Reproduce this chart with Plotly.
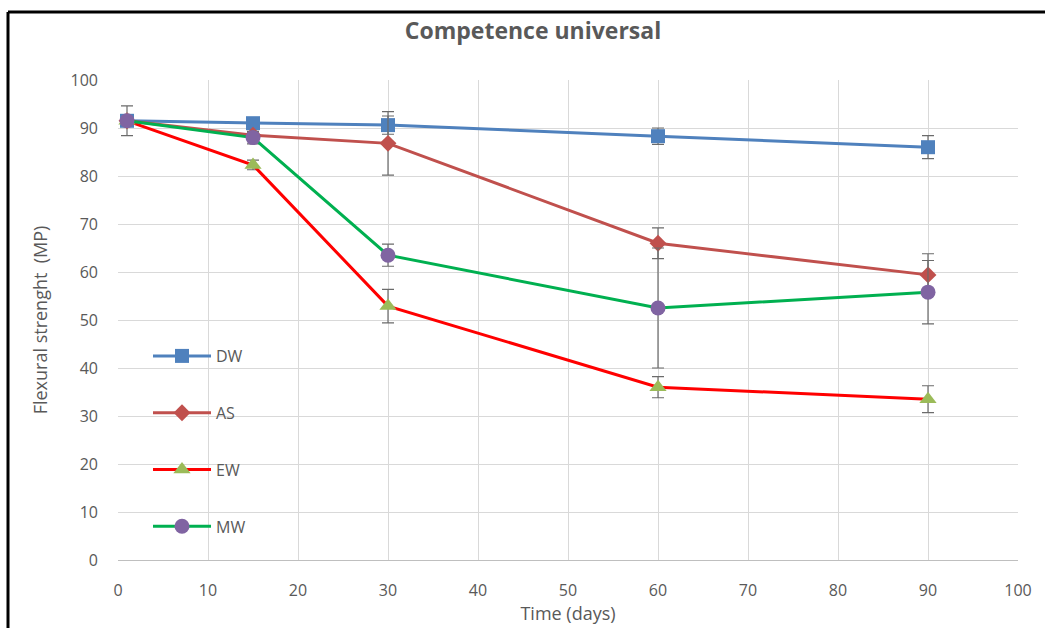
import plotly.graph_objects as go

days = [1, 15, 30, 60, 90]
series_names = ["DW", "AS", "EW", "MW"]
dw = [91.5, 91.0, 90.6, 88.3, 86.0]
as_ = [91.5, 88.5, 86.8, 66.0, 59.4]
ew = [91.5, 82.3, 52.9, 36.0, 33.5]
mw = [91.5, 88.0, 63.5, 52.5, 55.8]
dw_err = [3.1, 0.5, 1.9, 1.7, 2.4]
as_err = [0.0, 0.5, 6.6, 3.2, 4.4]
ew_err = [0.0, 1.0, 3.5, 2.2, 2.8]
mw_err = [0.0, 1.3, 2.3, 12.5, 6.6]
x_ticks = [0, 10, 20, 30, 40, 50, 60, 70, 80, 90, 100]
y_ticks = [0, 10, 20, 30, 40, 50, 60, 70, 80, 90, 100]

styles = {
    "DW": dict(line="#4F81BD", marker="#4F81BD", symbol="square", size=14),
    "AS": dict(line="#C0504D", marker="#C0504D", symbol="diamond", size=13),
    "EW": dict(line="#FF0000", marker="#9BBB59", symbol="triangle-up", size=15),
    "MW": dict(line="#00B050", marker="#8064A2", symbol="circle", size=15),
}
values = {"DW": dw, "AS": as_, "EW": ew, "MW": mw}
errors = {"DW": dw_err, "AS": as_err, "EW": ew_err, "MW": mw_err}

FONT = "Open Sans, sans-serif"
GRAY = "#595959"

fig = go.Figure()
for name in series_names:
    s = styles[name]
    fig.add_trace(go.Scatter(
        x=days, y=values[name], name=name, mode="lines+markers",
        legendgroup=name,
        line=dict(color=s["line"], width=3),
        marker=dict(color=s["marker"], symbol=s["symbol"], size=s["size"]),
        error_y=dict(type="data", array=errors[name], visible=True,
                     color="#6b6b6b", thickness=1.2, width=6),
    ))

L, T, W, H = 118, 80, 900, 480
def px(xp):
    return (xp - L) / W
def py(yp):
    return (T + H - yp) / H

fig.update_layout(
    width=1045, height=628,
    margin=dict(l=L, r=1045 - L - W, t=T, b=628 - T - H),
    paper_bgcolor="white", plot_bgcolor="white",
    font=dict(family=FONT, color=GRAY, size=16),
    title=dict(text="<b>Competence universal</b>", x=533 / 1045, xref="container",
               xanchor="center", y=1 - 31 / 628, yref="container", yanchor="middle",
               font=dict(size=23, color=GRAY, family=FONT)),
    xaxis=dict(range=[0, 100], tickvals=x_ticks, showgrid=True, gridcolor="#d9d9d9",
               gridwidth=1, zeroline=False, showline=True, linecolor="#bfbfbf",
               ticks="", ticklabelstandoff=16,
               title=dict(text="Time (days)", standoff=0, font=dict(size=18))),
    yaxis=dict(range=[0, 100], tickvals=y_ticks, showgrid=True, gridcolor="#d9d9d9",
               gridwidth=1, zeroline=False, showline=False,
               ticks="", ticklabelstandoff=19,
               title=dict(text="Flexural strenght  (MP)", standoff=18, font=dict(size=18))),
    legend=dict(x=px(148), y=py(339), xanchor="left", yanchor="top",
                bgcolor="rgba(0,0,0,0)", tracegroupgap=33, itemwidth=58,
                font=dict(size=16, color=GRAY)),
    showlegend=True,
)

fig.add_shape(type="line", xref="paper", yref="paper",
              x0=px(8), x1=px(8), y0=py(12), y1=py(640),
              line=dict(color="black", width=3))
fig.add_shape(type="line", xref="paper", yref="paper",
              x0=px(8), x1=px(1060), y0=py(12), y1=py(12),
              line=dict(color="black", width=3))

fig.write_html("out.html")
